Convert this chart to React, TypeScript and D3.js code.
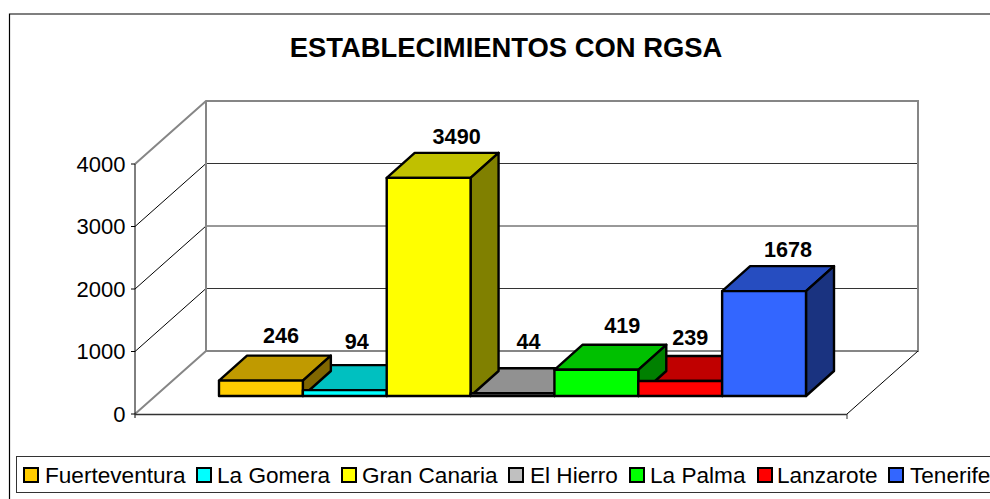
import React from "react";
import * as d3 from "d3";

const categories = ["Fuerteventura", "La Gomera", "Gran Canaria", "El Hierro", "La Palma", "Lanzarote", "Tenerife"];
const values = [246, 94, 3490, 44, 419, 239, 1678];
const frontColors = ["#FFCC00", "#00FFFF", "#FFFF00", "#C0C0C0", "#00FF00", "#FF0000", "#3366FF"];
const topColors = ["#C09A00", "#00C0C0", "#C0C000", "#919191", "#00C000", "#C00000", "#264DC0"];
const sideColors = ["#806600", "#008080", "#808000", "#606060", "#008000", "#800000", "#1A3380"];
const yTicks = [0, 1000, 2000, 3000, 4000];
const title = "ESTABLECIMIENTOS CON RGSA";

// layout
const labelDx = [20, 12, 28, 16, 26, 10, 24];
const labelDy = [-13, -16, -9, -19, -12, -11, -9];
const legendX = [[23, 45], [196, 217], [341, 362], [508, 530], [629, 650], [757, 777], [888, 910]];

const y = d3.scaleLinear().domain([0, 4000]).range([414, 164]);
const x = d3.scaleBand().domain(categories).range([219, 806]).padding(0);
const wallDx = 71, wallDy = -63;
const barDx = 28, barDy = -25;
const barBase = 396;
const h = (v: number) => y(0) - y(v);
const pts = (p: number[][]) => p.map((q) => q.join(",")).join(" ");

export default function App() {
  const bw = x.bandwidth();
  const order = d3.range(categories.length).sort((a, b) => values[a] - values[b]);
  const font = "'Liberation Sans', Arial, sans-serif";
  return (
    <svg width={990} height={499} style={{ position: "absolute", left: 0, top: 0, background: "#fff" }} fontFamily={font}>
      <path d="M9.5,499V14H990" fill="none" stroke="#000" strokeWidth={1.2} />
      <text x={506} y={56.5} textAnchor="middle" fontWeight="bold" fontSize={27.4} fill="#000">{title}</text>

      {/* walls */}
      {yTicks.slice(1, -1).map((t) => (
        <g key={t}>
          <line x1={206} x2={918} y1={y(t) + wallDy} y2={y(t) + wallDy} stroke="#333" strokeWidth={1} />
          <line x1={135} x2={206} y1={y(t)} y2={y(t) + wallDy} stroke="#000" strokeWidth={1} />
        </g>
      ))}
      <polyline points={pts([[135, y(4000)], [135 + wallDx, y(4000) + wallDy], [918, y(4000) + wallDy], [918, y(0) + wallDy], [135 + wallDx, y(0) + wallDy], [135, y(0)]])} fill="none" stroke="#868686" strokeWidth={2} />
      <line x1={206} x2={206} y1={y(4000) + wallDy} y2={y(0) + wallDy} stroke="#868686" strokeWidth={2} />
      <line x1={918} x2={847} y1={y(0) + wallDy} y2={y(0)} stroke="#000" strokeWidth={1} />

      {/* axes */}
      <line x1={135} x2={135} y1={y(4000)} y2={y(0) + 4} stroke="#000" strokeWidth={1} />
      <line x1={135} x2={847} y1={y(0) + 0.5} y2={y(0) + 0.5} stroke="#333" strokeWidth={1.5} />
      <line x1={847} x2={847} y1={y(0)} y2={y(0) + 5} stroke="#333" strokeWidth={1} />
      {yTicks.map((t) => (
        <g key={t}>
          <line x1={131} x2={135} y1={y(t)} y2={y(t)} stroke="#000" />
          <text x={125.5} y={y(t) + 7.5} textAnchor="end" fontSize={22} fill="#000">{t}</text>
        </g>
      ))}

      {/* bars: tops and sides, shortest first so taller bars overlap them, then faces */}
      <g stroke="#000" strokeWidth={2.4} strokeLinejoin="round">
        {order.map((i) => {
          const c = categories[i];
          const x0 = x(c)!, x1 = x0 + bw, t = barBase - h(values[i]);
          return (
            <g key={c}>
              <polygon points={pts([[x0, t], [x0 + barDx, t + barDy], [x1 + barDx, t + barDy], [x1, t]])} fill={topColors[i]} />
              <polygon points={pts([[x1, t], [x1 + barDx, t + barDy], [x1 + barDx, barBase + barDy], [x1, barBase]])} fill={sideColors[i]} />
            </g>
          );
        })}
        {categories.map((c, i) => (
          <rect key={c} x={x(c)!} y={barBase - h(values[i])} width={bw} height={h(values[i])} fill={frontColors[i]} />
        ))}
      </g>

      {/* value labels */}
      {categories.map((c, i) => (
        <text key={c} x={x(c)! + bw / 2 + labelDx[i]} y={barBase - h(values[i]) + barDy + labelDy[i]} textAnchor="middle" fontWeight="bold" fontSize={21.6} fill="#000">{values[i]}</text>
      ))}

      {/* legend */}
      <rect x={16.5} y={456.5} width={990} height={36} fill="#fff" stroke="#333" strokeWidth={1} />
      {categories.map((c, i) => (
        <g key={c}>
          <rect x={legendX[i][0] + 1} y={468} width={14} height={14} fill={frontColors[i]} stroke="#000" strokeWidth={2} />
          <text x={legendX[i][1]} y={482.5} fontSize={22.6} fill="#000">{c}</text>
        </g>
      ))}
    </svg>
  );
}
